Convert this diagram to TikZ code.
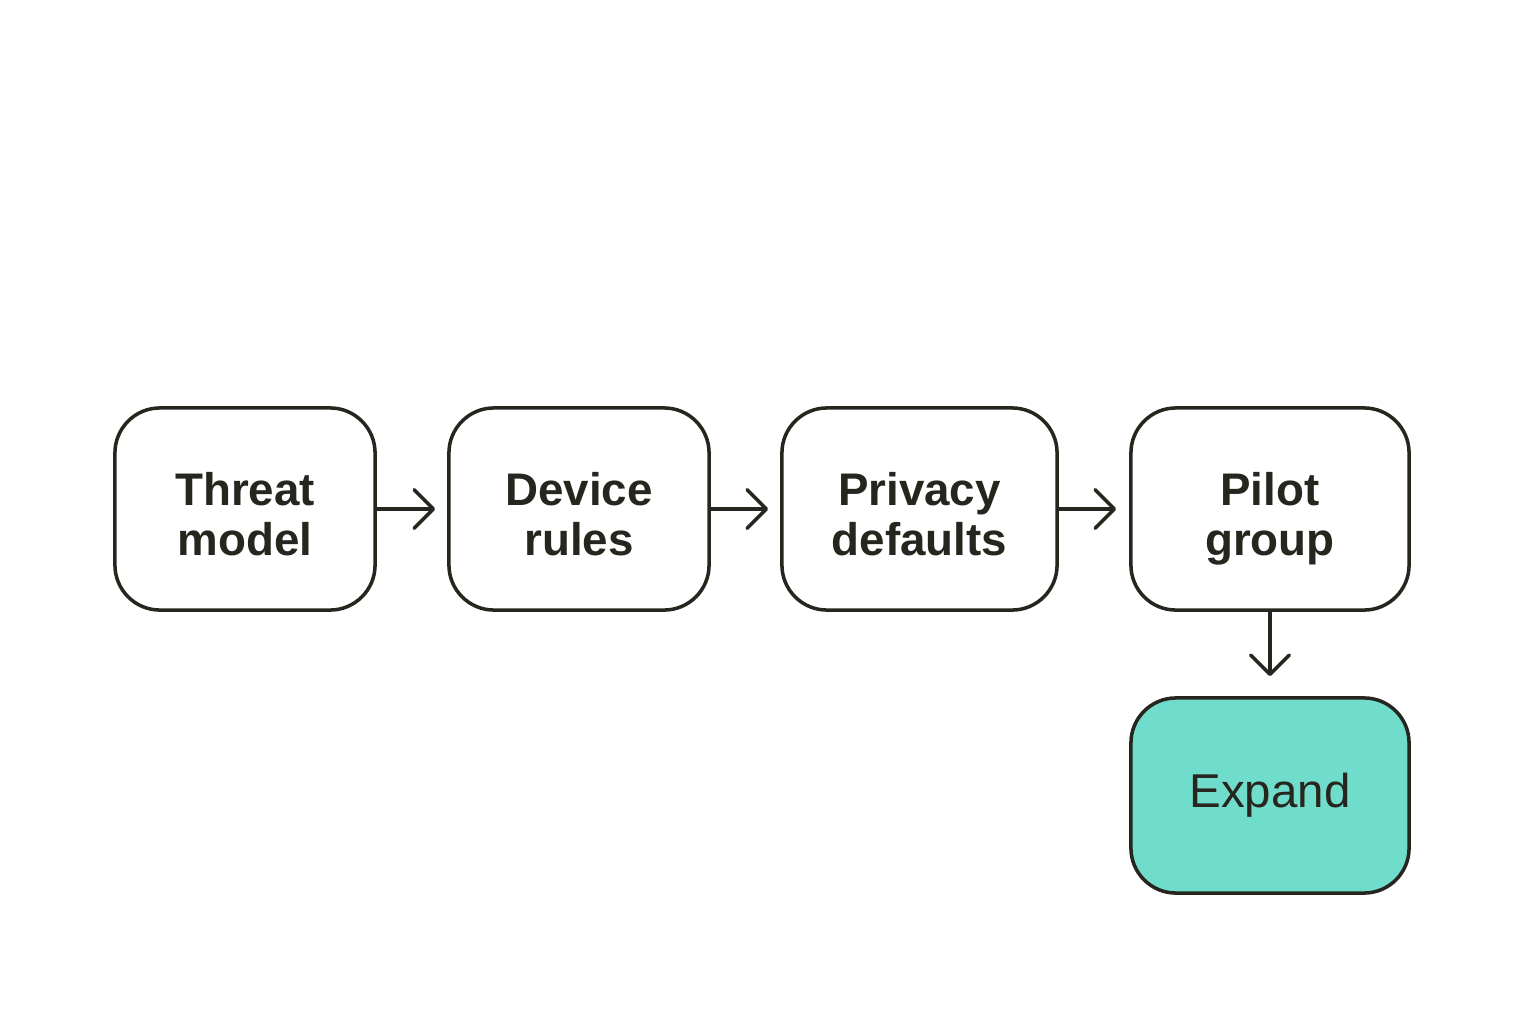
\documentclass[tikz,border=0pt]{standalone}
\usepackage{fontspec}
\setmainfont{Liberation Sans}
\usetikzlibrary{arrows.meta}
\definecolor{ink}{HTML}{26261F}
\definecolor{teal}{HTML}{70DCCB}
\newcommand{\twoline}[2]{\raisebox{-0.22cm}[0pt][0pt]{\begin{tabular}{@{}c@{}}#1\\#2\end{tabular}}}
\tikzset{
  stepbox/.style={draw=ink, line width=1pt, rounded corners=0.45cm, fill=white,
    minimum height=2.02cm, align=center, text=ink,
    font=\fontsize{13}{14.2}\selectfont\bfseries, inner sep=0pt},
  flow/.style={draw=ink, line width=1pt, line cap=round,
    -{Straight Barb[length=5.5pt,width=11pt,line width=1pt,round]}}
}
\begin{document}
\begin{tikzpicture}[x=0.01cm, y=-0.01cm]
\useasboundingbox (0,0) rectangle (1536,1024);
\node[stepbox, minimum width=2.60cm] (a) at (245,509) {\twoline{Threat}{model}};
\node[stepbox, minimum width=2.60cm] (b) at (579,509) {\twoline{Device}{rules}};
\node[stepbox, minimum width=2.75cm] (c) at (919.5,509) {\twoline{Privacy}{defaults}};
\node[stepbox, minimum width=2.78cm] (d) at (1270,509) {\twoline{Pilot}{group}};
\node[stepbox, minimum width=2.78cm, minimum height=1.95cm, fill=teal,
  font=\fontsize{13.5}{15}\selectfont] (e) at (1270,795.5) {Expand};
\draw[flow] (a.east) -- ([xshift=-0.12cm]b.west);
\draw[flow] (b.east) -- ([xshift=-0.12cm]c.west);
\draw[flow] (c.east) -- ([xshift=-0.13cm]d.west);
\draw[flow] (d.south) -- ([yshift=0.20cm]e.north);
\end{tikzpicture}
\end{document}
